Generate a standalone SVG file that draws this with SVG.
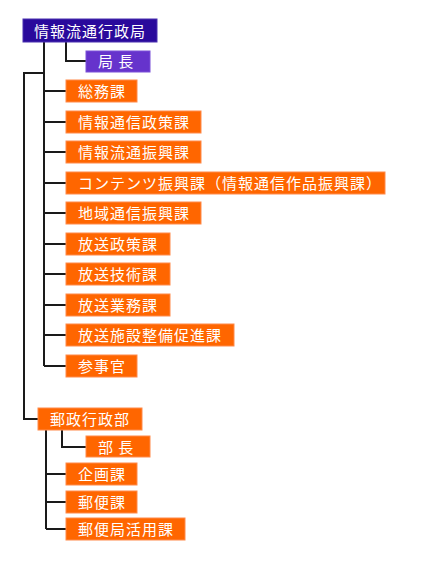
<svg xmlns="http://www.w3.org/2000/svg" width="431" height="563" viewBox="0 0 431 563">
<style>
.b{fill:#ff6600;stroke:#ff8a4a;stroke-width:1}
.t{fill:#ffffff;font-family:"Noto Sans CJK JP","Noto Sans CJK SC",sans-serif;font-size:15px;letter-spacing:1px}
.c{fill:none;stroke:#1a1a1a;stroke-width:2}
</style>
<rect width="431" height="563" fill="#ffffff"/>
<g id="connectors" class="c">
<path d="M44,42 V366"/>
<path d="M66,42 V61 H86"/>
<path d="M44,91 H66 M44,122 H66 M44,152 H66 M44,183 H66 M44,213 H66 M44,244 H66 M44,274 H66 M44,305 H66 M44,335 H66 M44,366 H66"/>
<path d="M44,73 H24 V419 H38"/>
<path d="M46,430 V529 M46,474 H66 M46,502 H66 M46,529 H66"/>
<path d="M62,430 V447 H86"/>
</g>
<g id="n0"><rect x="23" y="19" width="134" height="23" fill="#2a0a9c" stroke="#4a30b0"/><text class="t" x="34" y="36.5">情報流通行政局</text></g>
<g id="n1"><rect x="86" y="51" width="64" height="21" fill="#6633cc" stroke="#7a50d8"/><text class="t" x="98" y="67">局 長</text></g>
<g id="n2"><rect class="b" x="66" y="80" width="71" height="22"/><text class="t" x="78" y="97">総務課</text></g>
<g id="n3"><rect class="b" x="66" y="111" width="135" height="22"/><text class="t" x="78" y="128">情報通信政策課</text></g>
<g id="n4"><rect class="b" x="66" y="141" width="135" height="22"/><text class="t" x="78" y="158">情報流通振興課</text></g>
<g id="n5"><rect class="b" x="66" y="172" width="319" height="22"/><text class="t" x="78" y="189">コンテンツ振興課（情報通信作品振興課）</text></g>
<g id="n6"><rect class="b" x="66" y="202" width="135" height="22"/><text class="t" x="78" y="219">地域通信振興課</text></g>
<g id="n7"><rect class="b" x="66" y="233" width="104" height="22"/><text class="t" x="78" y="250">放送政策課</text></g>
<g id="n8"><rect class="b" x="66" y="263" width="104" height="22"/><text class="t" x="78" y="280">放送技術課</text></g>
<g id="n9"><rect class="b" x="66" y="294" width="104" height="22"/><text class="t" x="78" y="311">放送業務課</text></g>
<g id="n10"><rect class="b" x="66" y="324" width="168" height="22"/><text class="t" x="78" y="341">放送施設整備促進課</text></g>
<g id="n11"><rect class="b" x="66" y="355" width="71" height="22"/><text class="t" x="78" y="372">参事官</text></g>
<g id="n12"><rect class="b" x="38" y="408" width="104" height="22"/><text class="t" x="50" y="425">郵政行政部</text></g>
<g id="n13"><rect class="b" x="86" y="436" width="64" height="21"/><text class="t" x="98" y="452.5">部 長</text></g>
<g id="n14"><rect class="b" x="66" y="463" width="71" height="22"/><text class="t" x="78" y="480">企画課</text></g>
<g id="n15"><rect class="b" x="66" y="491" width="71" height="22"/><text class="t" x="78" y="508">郵便課</text></g>
<g id="n16"><rect class="b" x="66" y="518" width="119" height="22"/><text class="t" x="78" y="535">郵便局活用課</text></g>
</svg>
